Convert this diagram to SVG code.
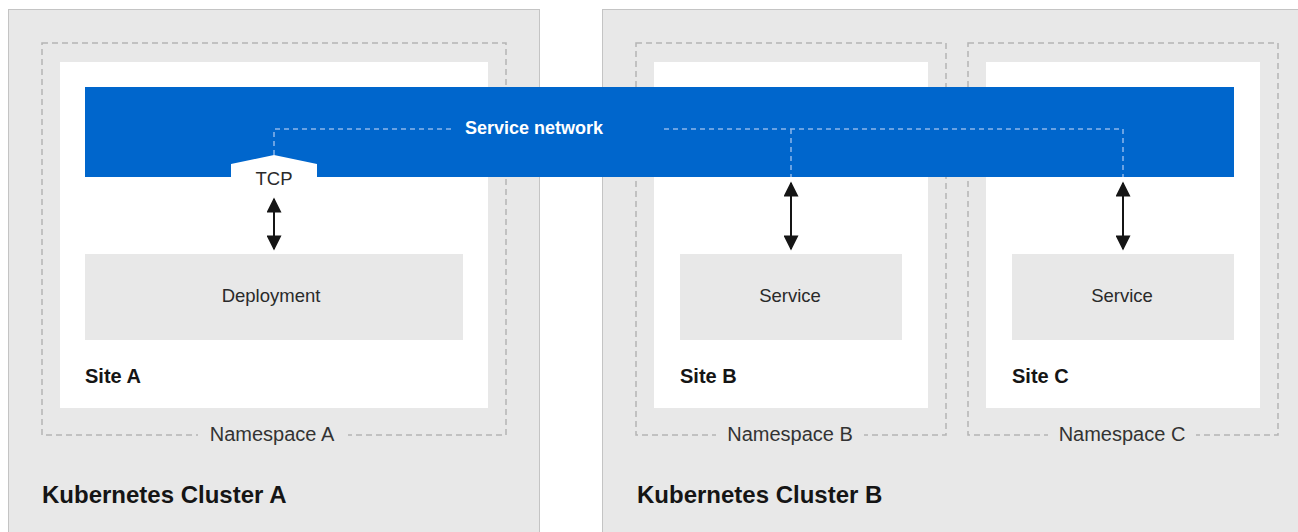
<svg xmlns="http://www.w3.org/2000/svg" width="1298" height="532" viewBox="0 0 1298 532">
<style>
.cluster{fill:#e8e8e8;stroke:#c4c4c4;stroke-width:1}
.ns{fill:none;stroke:#b4b4b4;stroke-width:1.5;stroke-dasharray:6 4}
.site{fill:#ffffff}
.box{fill:#e8e8e8}
.t{font-family:"Liberation Sans",Arial,sans-serif;fill:#2a2a2a}
.reg{font-size:18.5px}
.nsl{font-size:20px;fill:#333}
.b{font-weight:bold;fill:#151515}
.link{fill:none;stroke:#8cb6ea;stroke-width:1.5;stroke-dasharray:5 4}
.arr{stroke:#151515;stroke-width:2;marker-start:url(#ah);marker-end:url(#ah)}
</style>
<defs>
<marker id="ah" viewBox="0 0 10 10" refX="9" refY="5" markerWidth="8" markerHeight="7.5" orient="auto-start-reverse" markerUnits="strokeWidth">
<path d="M0,0 L10,5 L0,10 z" fill="#151515"/>
</marker>
</defs>
<rect width="1298" height="532" fill="#ffffff"/>
<g id="cluster-a">
<rect class="cluster" x="8.5" y="9.5" width="531" height="530"/>
<text class="t b" x="42" y="503" font-size="24px">Kubernetes Cluster A</text>
</g>
<g id="cluster-b">
<rect class="cluster" x="602.5" y="9.5" width="700" height="530"/>
<text class="t b" x="637" y="503" font-size="24px">Kubernetes Cluster B</text>
</g>
<g id="namespace-a">
<rect class="ns" x="42" y="43" width="464" height="392"/>
<rect x="198" y="422" width="150" height="24" fill="#e8e8e8"/>
<text class="t nsl" x="272" y="441" text-anchor="middle">Namespace A</text>
</g>
<g id="namespace-b">
<rect class="ns" x="636" y="43" width="310" height="392"/>
<rect x="716" y="422" width="148" height="24" fill="#e8e8e8"/>
<text class="t nsl" x="790" y="441" text-anchor="middle">Namespace B</text>
</g>
<g id="namespace-c">
<rect class="ns" x="968" y="43" width="310" height="392"/>
<rect x="1048" y="422" width="148" height="24" fill="#e8e8e8"/>
<text class="t nsl" x="1122" y="441" text-anchor="middle">Namespace C</text>
</g>
<g id="site-a">
<rect class="site" x="60" y="62" width="428" height="346"/>
<text class="t b" x="85" y="383" font-size="20px">Site A</text>
</g>
<g id="site-b">
<rect class="site" x="654" y="62" width="274" height="346"/>
<text class="t b" x="680" y="383" font-size="20px">Site B</text>
</g>
<g id="site-c">
<rect class="site" x="986" y="62" width="274" height="346"/>
<text class="t b" x="1012" y="383" font-size="20px">Site C</text>
</g>
<g id="service-network">
<rect x="85" y="87" width="1149" height="90" fill="#0066cc"/>
<text class="t b" x="534" y="134" font-size="18px" text-anchor="middle" style="fill:#ffffff">Service network</text>
</g>
<g id="deployment">
<rect class="box" x="85" y="254" width="378" height="86"/>
<text class="t reg" x="271" y="302" text-anchor="middle">Deployment</text>
</g>
<g id="service-b">
<rect class="box" x="680" y="254" width="222" height="86"/>
<text class="t reg" x="790" y="302" text-anchor="middle">Service</text>
</g>
<g id="service-c">
<rect class="box" x="1012" y="254" width="222" height="86"/>
<text class="t reg" x="1122" y="302" text-anchor="middle">Service</text>
</g>
<g id="connectors">
<path class="link" d="M274,155 V129 H455"/>
<path class="link" d="M664,129 H1123 V177"/>
<path class="link" d="M791,129 V177"/>
<polygon points="231,177 231,164 274,155 317,164 317,177" fill="#ffffff"/>
<text class="t reg" x="274" y="185" text-anchor="middle">TCP</text>
<line class="arr" x1="274" y1="199" x2="274" y2="249"/>
<line class="arr" x1="791" y1="183" x2="791" y2="249"/>
<line class="arr" x1="1123" y1="183" x2="1123" y2="249"/>
</g>
</svg>
